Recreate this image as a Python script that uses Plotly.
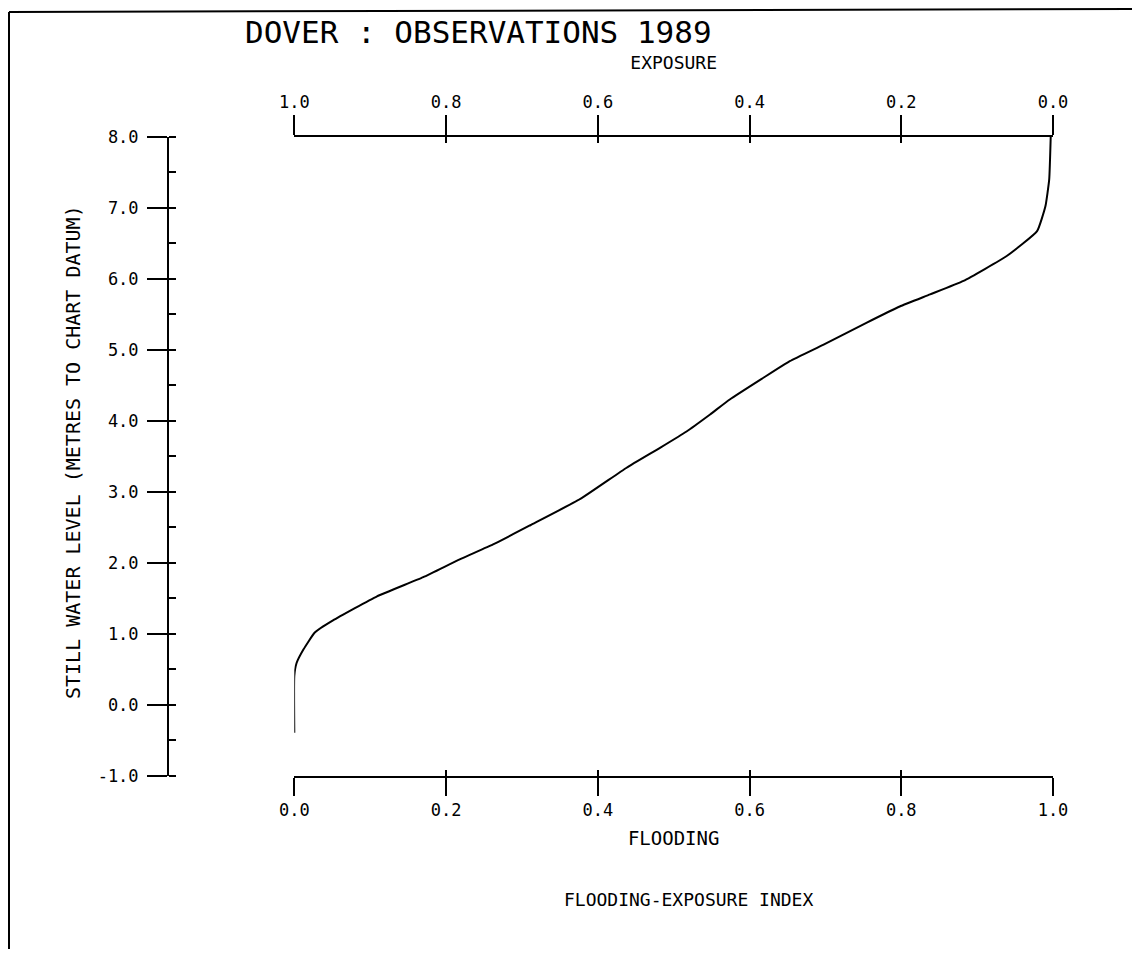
import plotly.graph_objects as go

# ---- data ----
flooding = [0.0, 0.0, 0.003, 0.012, 0.027, 0.051, 0.109, 0.170, 0.218, 0.262, 0.311,
            0.377, 0.438, 0.482, 0.517, 0.548, 0.574, 0.616, 0.653, 0.697, 0.754,
            0.798, 0.838, 0.882, 0.939, 0.979, 0.990, 0.995, 0.997]
water_level = [-0.39, 0.41, 0.59, 0.78, 1.02, 1.19, 1.53, 1.80, 2.05, 2.26, 2.53,
               2.90, 3.34, 3.62, 3.85, 4.09, 4.30, 4.59, 4.84, 5.07, 5.38,
               5.61, 5.78, 5.97, 6.32, 6.67, 7.02, 7.40, 8.0]

flood_ticks = [0.0, 0.2, 0.4, 0.6, 0.8, 1.0]
flood_labels = ["0.0", "0.2", "0.4", "0.6", "0.8", "1.0"]
exposure_ticks = [1.0, 0.8, 0.6, 0.4, 0.2, 0.0]
exposure_labels = ["1.0", "0.8", "0.6", "0.4", "0.2", "0.0"]
level_ticks = [-1.0, 0.0, 1.0, 2.0, 3.0, 4.0, 5.0, 6.0, 7.0, 8.0]
level_labels = ["-1.0", "0.0", "1.0", "2.0", "3.0", "4.0", "5.0", "6.0", "7.0", "8.0"]

title_text = "DOVER : OBSERVATIONS 1989"
y_title = "STILL WATER LEVEL (METRES TO CHART DATUM)"
bottom_title = "FLOODING"
top_title = "EXPOSURE"
index_text = "FLOODING-EXPOSURE INDEX"

# ---- layout helpers (page body has an 8px margin) ----
OFF = 8
W, H = 1140 - 2 * OFF, 957 - 2 * OFF
FONT = "DejaVu Sans Mono"


def px(x):
    return (x - OFF) / W


def py(y):
    return 1 - (y - OFF) / H


XDOM = [px(294.3), px(1053)]
YDOM = [py(776), py(136.7)]

fig = go.Figure()
fig.add_trace(go.Scatter(x=flooding, y=water_level, mode="lines",
                         line=dict(color="black", width=2, shape="spline", smoothing=0.4),
                         xaxis="x", yaxis="y", showlegend=False, hoverinfo="skip"))
for ax in ["x2", "x3", "x4"]:
    fig.add_trace(go.Scatter(x=flooding, y=water_level, mode="lines", opacity=0,
                             line=dict(color="black", width=0),
                             xaxis=ax, yaxis="y", showlegend=False, hoverinfo="skip"))

common = dict(showgrid=False, zeroline=False, automargin=False,
              tickcolor="black", tickwidth=2, linecolor="black", linewidth=2,
              tickfont=dict(family=FONT, size=17, color="black"))

fig.update_layout(
    width=W, height=H,
    margin=dict(l=0, r=0, t=0, b=0),
    paper_bgcolor="white", plot_bgcolor="white",
    showlegend=False,
    xaxis=dict(domain=XDOM, range=[0, 1], anchor="y", side="bottom",
               showline=True, ticks="outside", ticklen=18,
               tickmode="array", tickvals=flood_ticks, ticktext=flood_labels,
               title=dict(text=bottom_title, standoff=12,
                          font=dict(family=FONT, size=19, color="black")),
               **common),
    xaxis3=dict(domain=XDOM, range=[0, 1], anchor="y", side="bottom", overlaying="x",
                showline=False, ticks="inside", ticklen=6, showticklabels=False,
                tickmode="array", tickvals=flood_ticks, **common),
    xaxis2=dict(domain=XDOM, range=[1, 0], anchor="y", side="top", overlaying="x",
                showline=True, ticks="outside", ticklen=20,
                tickmode="array", tickvals=exposure_ticks, ticktext=exposure_labels,
                title=dict(text=top_title, standoff=18,
                           font=dict(family=FONT, size=18, color="black")),
                **common),
    xaxis4=dict(domain=XDOM, range=[1, 0], anchor="y", side="top", overlaying="x",
                showline=False, ticks="inside", ticklen=6, showticklabels=False,
                tickmode="array", tickvals=exposure_ticks, **common),
    yaxis=dict(domain=YDOM, range=[-1, 8], anchor="free", position=px(168),
               showline=True, ticks="outside", ticklen=20,
               tickmode="array", tickvals=level_ticks, ticktext=level_labels,
               ticklabelstandoff=5,
               minor=dict(ticks="inside", ticklen=7, tickwidth=2, tickcolor="black",
                          dtick=0.5, tick0=-1.0),
               **common),
)

fig.add_annotation(text=title_text, xref="paper", yref="paper",
                   x=px(243), y=py(32), xanchor="left", yanchor="middle",
                   showarrow=False, font=dict(family=FONT, size=31, color="black"))
fig.add_annotation(text=y_title, xref="paper", yref="paper",
                   x=px(73), y=py(452), xanchor="center", yanchor="middle",
                   textangle=-90, showarrow=False,
                   font=dict(family=FONT, size=20, color="black"))
fig.add_annotation(text=index_text, xref="paper", yref="paper",
                   x=px(688), y=py(899), xanchor="center", yanchor="middle",
                   showarrow=False, font=dict(family=FONT, size=18, color="black"))

# scanned page frame
fig.add_shape(type="line", xref="paper", yref="paper",
              x0=px(9), y0=py(12), x1=1, y1=py(9), line=dict(color="black", width=2))
fig.add_shape(type="line", xref="paper", yref="paper",
              x0=px(9), y0=py(12), x1=px(9), y1=0, line=dict(color="black", width=2))

fig.write_html("out.html")
